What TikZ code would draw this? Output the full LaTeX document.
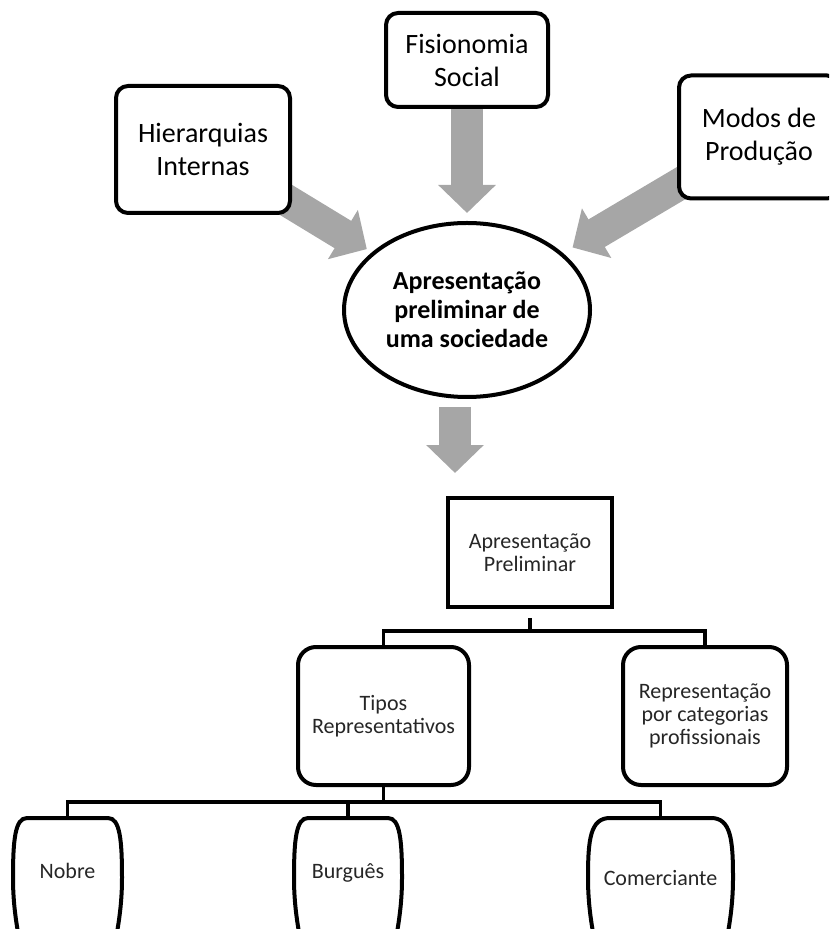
\documentclass[tikz,border=0pt]{standalone}
\usepackage{fontspec}
\setmainfont{Carlito}
\usetikzlibrary{arrows.meta,shapes.geometric,positioning,calc,backgrounds}
\definecolor{arrowgray}{HTML}{A6A6A6}

\begin{document}
\begin{tikzpicture}[x=0.5pt,y=-0.5pt,
  topbox/.style={shape=rectangle,rounded corners=6pt,draw=black,line width=2pt,fill=white,
    inner sep=0pt,outer sep=0pt,align=center,font=\fontsize{14}{16.5}\selectfont},
  centre/.style={shape=ellipse,draw=black,line width=2pt,fill=white,inner sep=0pt,
    minimum width=123pt,minimum height=87pt,align=center,font=\fontsize{13}{14.5}\selectfont\bfseries},
  orgbox/.style={shape=rectangle,draw=black,line width=2pt,fill=white,inner sep=0pt,outer sep=0pt,
    align=center,text=black!85,font=\fontsize{11}{11.6}\selectfont},
  leaf/.style={shape=rectangle,draw=none,inner sep=0pt,outer sep=0pt,anchor=north,
    text height=1.5ex,text depth=.3ex,text=black!85,font=\fontsize{11}{12}\selectfont},
  leafline/.style={draw=black,line width=2pt},
  link/.style={draw=black,line width=1.7pt},
  bigarrow/.style={draw=arrowgray,line width=16pt,-{Triangle[width=28pt,length=14pt]}}]
\useasboundingbox (0,0) rectangle (829,929);
\clip (0,0) rectangle (829,929);

% upper part
\node[topbox,minimum width=81pt,minimum height=47pt] (fis) at (467,60) {Fisionomia\\Social};
\node[topbox,minimum width=87pt,minimum height=63.5pt] (hier) at (203,149.5) {Hierarquias\\Internas};
\node[topbox,minimum width=80pt,minimum height=61.5pt] (modos) at (759,137) {Modos de\\Produção};
\node[centre] (apres) at (467,310) {Apresentação\\preliminar de\\uma sociedade};
\coordinate (dtip) at (455,473);

\begin{scope}[on background layer]
\draw[bigarrow,shorten >=4pt] (fis.center) -- (apres);
\draw[bigarrow,shorten >=3pt] (hier.center) -- (apres);
\draw[bigarrow,shorten >=5.5pt] (modos.center) -- (apres);
\draw[bigarrow,shorten <=4pt] (dtip |- apres.south) -- (dtip);
\end{scope}

% lower part
\node[orgbox,minimum width=82pt,minimum height=54.5pt] (apr) at (530,552.5) {Apresentação\\Preliminar};
\node[orgbox,rounded corners=9pt,minimum width=85.5pt,minimum height=69pt] (tipos) at (383.5,716) {Tipos\\Representativos};
\node[orgbox,rounded corners=9pt,minimum width=82pt,minimum height=69pt] (repr) [right=77pt of tipos] {Representação\\por categorias\\profissionais};

\node[leaf,minimum width=54.5pt,minimum height=55pt] (nobre) at (67.5,818) {Nobre};
\node[leaf,minimum width=54pt,minimum height=55pt] (burg) at (348,818) {Burguês};
\node[leaf,minimum width=72.5pt,minimum height=62pt] (com) at (660.5,818) {Comerciante};

\foreach \n/\i in {nobre/14,burg/14,com/22}{
  \draw[leafline] ($(\n.north west)+(7,125)$) .. controls ($(\n.north west)+(2,100)$) and ($(\n.north west)+(0,80)$) .. ($(\n.north west)+(0,60)$)
    .. controls ($(\n.north west)+(0,22)$) and ($(\n.north west)+(2,0)$) .. ($(\n.north west)+(\i,0)$)
    -- ($(\n.north east)+(-\i,0)$)
    .. controls ($(\n.north east)+(-2,0)$) and ($(\n.north east)+(0,22)$) .. ($(\n.north east)+(0,60)$)
    .. controls ($(\n.north east)+(0,80)$) and ($(\n.north east)+(-2,100)$) .. ($(\n.north east)+(-7,125)$);
}

\draw[link] (apr.south) ++(0,-5.5pt) -- ++(0,-6.5pt) coordinate (b1);
\draw[link] (tipos.north) |- (b1) -| (repr.north);
\draw[link] (tipos.south) -- ++(0,-8.5pt) coordinate (b2);
\draw[link] (nobre.north) |- (b2) -| (com.north);
\draw[link] (burg.north) -- (burg.north |- b2);

\end{tikzpicture}
\end{document}
